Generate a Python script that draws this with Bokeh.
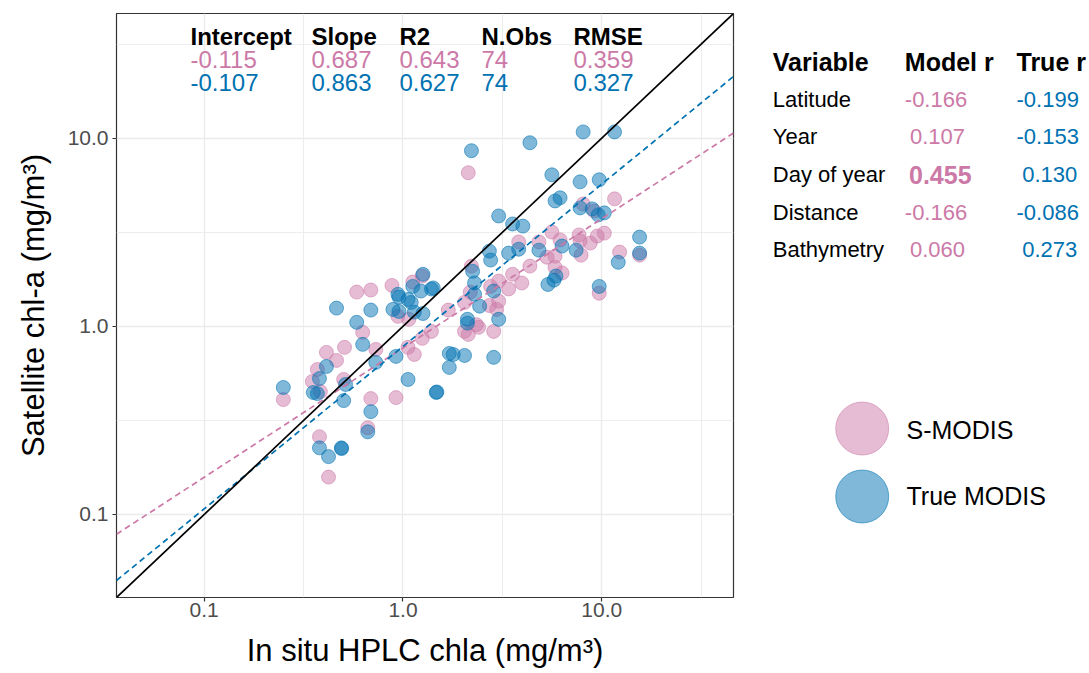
import numpy as np
from bokeh.plotting import figure
from bokeh.models import Range1d, FixedTicker, ColumnDataSource
from bokeh.layouts import row
from bokeh.embed import file_html
from bokeh.resources import INLINE
from bokeh.core.properties import value

PINK = "#CC79A7"
BLUE = "#0072B2"
FONT = "Liberation Sans"

# ---------------- data ----------------
smodis_x = [2.13, 11.6, 8.06, 9.16, 5.61, 6.17, 7.69, 7.78, 8.75, 9.49, 10.3, 12.3, 15.5,
            4.83, 3.82, 5.30, 5.82, 7.87, 4.35, 5.82, 6.31, 3.56, 3.03, 3.96, 3.40, 9.71,
            2.21, 2.18, 2.76, 2.72, 2.96, 2.34, 2.86, 2.04, 2.13, 2.40, 1.69, 0.585, 0.689,
            0.880, 1.12, 1.25, 0.943, 1.07, 0.627, 0.508, 0.412, 0.463, 0.730, 0.371, 0.350,
            0.384, 0.503, 0.250, 1.06, 1.14, 1.25, 1.39, 0.689, 0.922, 0.665, 0.380, 0.422,
            3.03, 2.04]
smodis_y = [6.55, 4.76, 4.47, 4.10, 3.17, 2.88, 3.06, 2.84, 2.77, 3.02, 3.13, 2.48, 2.39,
            2.81, 2.81, 2.33, 2.36, 2.39, 2.09, 2.06, 1.92, 1.89, 1.74, 1.70, 1.58, 1.50,
            2.09, 1.52, 1.63, 1.29, 1.23, 1.02, 0.940, 0.940, 0.906, 0.988, 1.22, 1.52, 1.56,
            1.65, 1.72, 1.85, 1.13, 1.09, 0.929, 0.773, 0.727, 0.659, 0.754, 0.590, 0.509,
            0.450, 0.522, 0.408, 0.773, 0.709, 0.863, 0.940, 0.413, 0.418, 0.289, 0.259, 0.158,
            1.36, 1.34]

true_x = [2.21, 4.35, 8.06, 11.6, 5.61, 7.78, 9.71, 5.82, 6.17, 7.78, 8.95, 9.60, 10.3,
          3.03, 3.56, 4.01, 6.31, 4.83, 3.82, 3.40, 2.72, 2.76, 7.43, 15.5, 15.5, 12.1,
          5.36, 5.75, 5.88, 9.71, 2.24, 2.29, 2.29, 2.86, 2.43, 2.11, 2.11, 3.03, 1.42,
          1.79, 2.04, 2.86, 0.463, 0.689, 0.890, 0.954, 1.10, 1.14, 1.26, 0.585, 0.627,
          0.412, 0.730, 0.380, 0.354, 0.371, 0.514, 0.503, 0.250, 0.922, 1.71, 1.71, 1.06,
          1.47, 1.48, 0.689, 0.665, 0.380, 0.422, 0.491, 0.49, 0.943, 0.954, 1.26, 1.39,
          1.23, 1.06, 1.12]
true_y = [8.58, 9.46, 10.8, 10.8, 6.39, 5.86, 6.01, 4.64, 4.82, 4.26, 4.21, 3.91, 4.01,
          3.86, 3.50, 3.41, 2.67, 2.54, 2.57, 2.45, 2.51, 2.25, 2.54, 2.98, 2.45, 2.19,
          1.67, 1.76, 1.85, 1.63, 1.96, 1.70, 1.48, 1.54, 1.28, 1.09, 1.04, 1.09, 1.60,
          0.709, 0.700, 0.684, 1.25, 1.22, 1.23, 1.20, 1.34, 1.19, 1.17, 1.05, 0.802,
          0.612, 0.643, 0.528, 0.445, 0.439, 0.491, 0.403, 0.473, 0.692, 0.718, 0.605, 0.522,
          0.445, 0.448, 0.352, 0.275, 0.226, 0.203, 0.224, 0.226, 1.48, 1.43, 1.89, 1.58,
          1.54, 1.39, 1.63]

series_names = ["S-MODIS", "True MODIS"]
series_colors = [PINK, BLUE]

stat_headers = ["Intercept", "Slope", "R2", "N.Obs", "RMSE"]
stats_smodis = ["-0.115", "0.687", "0.643", "74", "0.359"]
stats_true = ["-0.107", "0.863", "0.627", "74", "0.327"]
intercepts = [-0.115, -0.107]
slopes = [0.687, 0.863]

cor_headers = ["Variable", "Model r", "True r"]
cor_vars = ["Latitude", "Year", "Day of year", "Distance", "Bathymetry"]
model_r = [-0.166, 0.107, 0.455, -0.166, 0.060]
true_r = [-0.199, -0.153, 0.130, -0.086, 0.273]
model_r_bold = [False, False, True, False, False]

axis_ticks = [0.1, 1.0, 10.0]
axis_tick_labels = ["0.1", "1.0", "10.0"]
axis_minor = [0.0316, 0.316, 3.16, 31.6]
LIM = (0.0362, 46.0)

x_title = "In situ HPLC chla (mg/m³)"
y_title = "Satellite chl-a (mg/m³)"

# ---------------- main panel ----------------
FL, FT, FW, FH = 116, 13, 617, 584   # frame left/top/width/height on the page
p = figure(width=735, height=673, x_axis_type="log", y_axis_type="log",
           x_range=Range1d(*LIM), y_range=Range1d(*LIM),
           output_backend="svg", toolbar_location=None,
           min_border_left=FL, min_border_right=2, min_border_top=FT,
           min_border_bottom=673 - FT - FH,
           background_fill_color="white", border_fill_color="white")

p.outline_line_color = "#333333"
p.outline_line_width = 1.2

for ax, title in ((p.xaxis[0], x_title), (p.yaxis[0], y_title)):
    ax.ticker = FixedTicker(ticks=axis_ticks, minor_ticks=axis_minor)
    ax.major_label_overrides = dict(zip(axis_ticks, axis_tick_labels))
    ax.major_label_text_font = FONT
    ax.major_label_text_font_size = "21px"
    ax.major_label_text_color = "#4D4D4D"
    ax.axis_line_color = None
    ax.major_tick_line_color = "#333333"
    ax.major_tick_line_width = 1.2
    ax.major_tick_out = 4
    ax.major_tick_in = 0
    ax.minor_tick_line_color = None
    ax.axis_label = title
    ax.axis_label_text_font = FONT
    ax.axis_label_text_font_size = "31px"
    ax.axis_label_text_font_style = "normal"
    ax.axis_label_text_color = "black"

p.xaxis[0].major_label_standoff = 1
p.xaxis[0].axis_label_standoff = 13
p.yaxis[0].major_label_standoff = 4
p.yaxis[0].axis_label_standoff = 14

for g in (p.xgrid[0], p.ygrid[0]):
    g.ticker = FixedTicker(ticks=axis_ticks, minor_ticks=axis_minor)
    g.grid_line_color = "#EBEBEB"
    g.grid_line_width = 1.4
    g.minor_grid_line_color = "#EBEBEB"
    g.minor_grid_line_width = 0.9

for xs, ys, c in ((smodis_x, smodis_y, PINK), (true_x, true_y, BLUE)):
    p.scatter(xs, ys, size=14, fill_color=c, fill_alpha=0.5,
              line_color=c, line_alpha=0.55, line_width=1)

x_line = [LIM[0], LIM[1]]
for a, b, c in zip(intercepts, slopes, series_colors):
    y_fit = [10 ** (a + b * np.log10(v)) for v in x_line]
    p.line(x_line, y_fit, line_color=c, line_width=1.7, line_dash="6 4")
p.line(x_line, x_line, line_color="black", line_width=1.7)

# text placement helpers (page pixel -> data coordinate inside the frame)
lg0, lg1 = np.log10(LIM[0]), np.log10(LIM[1])
def fx(px):
    return 10 ** (lg0 + (px - FL) / FW * (lg1 - lg0))
def fy(py):
    return 10 ** (lg1 - (py - FT) / FH * (lg1 - lg0))

col_px = [190, 311, 399, 481, 573]
rows = [(stat_headers, "black", "bold", 36), (stats_smodis, PINK, "normal", 59),
        (stats_true, BLUE, "normal", 82)]
for texts, col, style, ypos in rows:
    src = ColumnDataSource(dict(x=[fx(c) for c in col_px], y=[fy(ypos)] * len(texts), t=texts))
    p.text(x="x", y="y", text="t", source=src, text_color=col,
           text_font=value(FONT), text_font_size="24px", text_font_style=style,
           text_align="left", text_baseline="alphabetic")

# ---------------- right panel: correlation table + legend ----------------
# its frame is aligned with the main frame (page y 13..597), so y below = page y
W2 = 1089 - 735
p2 = figure(width=W2, height=673, x_range=Range1d(0, W2), y_range=Range1d(FT + FH, FT),
            output_backend="svg", toolbar_location=None, min_border=0,
            x_axis_location=None, y_axis_location=None,
            background_fill_color="white", border_fill_color="white")
p2.outline_line_color = None
for g in p2.grid:
    g.visible = False

hdr_x = [37.3, 169.3, 281.0]
p2.text(x=hdr_x, y=[61] * 3, text=cor_headers, text_color="black",
        text_font=value(FONT), text_font_size="25px", text_font_style="bold",
        text_align="left", text_baseline="alphabetic")

row_y = [98.8, 136.0, 173.8, 212.0, 248.8]
p2.text(x=[37.3] * len(cor_vars), y=row_y, text=cor_vars, text_color="black",
        text_font=value(FONT), text_font_size="22px",
        text_align="left", text_baseline="alphabetic")

for v, b, yb in zip(model_r, model_r_bold, row_y):
    xpos = 169.3 if v < 0 else (173.5 if b else 174.5)
    p2.text(x=[xpos], y=[yb + (0.5 if b else 0)], text=[f"{v:.3f}"], text_color=PINK,
            text_font=value(FONT), text_font_size="25px" if b else "22px",
            text_font_style="bold" if b else "normal",
            text_align="left", text_baseline="alphabetic")

for v, yb in zip(true_r, row_y):
    xpos = 281.0 if v < 0 else 286.7
    p2.text(x=[xpos], y=[yb], text=[f"{v:.3f}"], text_color=BLUE,
            text_font=value(FONT), text_font_size="22px",
            text_align="left", text_baseline="alphabetic")

leg_y = [428.0, 496.0]
p2.scatter([126.7, 126.7], leg_y, size=53, fill_color=series_colors, fill_alpha=0.5,
           line_color=series_colors, line_alpha=0.55, line_width=1)
p2.text(x=[171, 171], y=[429.0, 495.5], text=series_names, text_color="black",
        text_font=value(FONT), text_font_size="25px",
        text_align="left", text_baseline="alphabetic")

layout = row(p, p2)
open("out.html", "w").write(file_html(layout, INLINE))
